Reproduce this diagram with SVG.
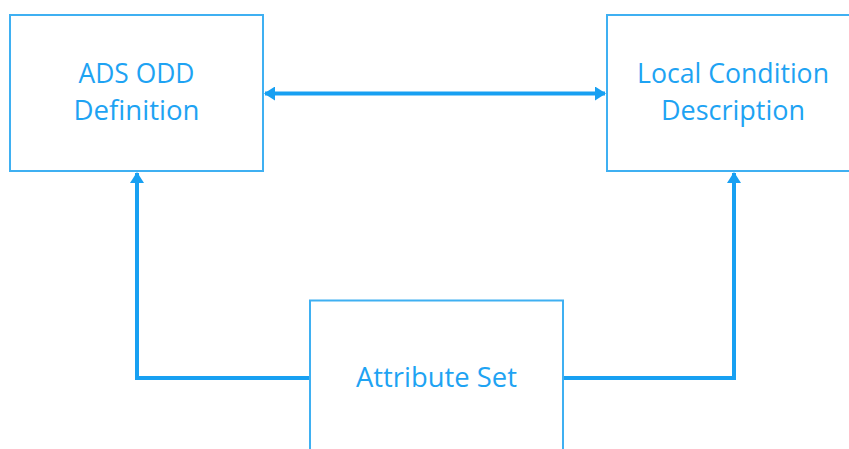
<svg xmlns="http://www.w3.org/2000/svg" width="849" height="449" viewBox="0 0 849 449">
<style>
.box{fill:#fff;stroke:#3fb0f2;stroke-width:2}
.lbl{font-family:"Open Sans","Liberation Sans",sans-serif;font-size:27px;fill:#1ea3f3;text-anchor:middle}
.con{fill:none;stroke:#18a0f2;stroke-width:4;stroke-linejoin:miter}
</style>
<defs>
<marker id="ah" viewBox="0 0 11 14" refX="10" refY="7" markerWidth="11" markerHeight="14" orient="auto-start-reverse" markerUnits="userSpaceOnUse">
<path d="M0,0 L11,7 L0,14 z" fill="#18a0f2"/>
</marker>
</defs>
<rect width="849" height="449" fill="#fff"/>
<g id="connectors">
<path class="con" d="M265,93.5 H605" marker-start="url(#ah)" marker-end="url(#ah)"/>
<path class="con" d="M310,378 H137 V173" marker-end="url(#ah)"/>
<path class="con" d="M563,378 H734 V173" marker-end="url(#ah)"/>
</g>
<g id="ads">
<rect class="box" x="10" y="15" width="253" height="156"/>
<text class="lbl" x="136.5" y="83" textLength="116" lengthAdjust="spacingAndGlyphs">ADS ODD</text>
<text class="lbl" x="136.5" y="120" textLength="126" lengthAdjust="spacingAndGlyphs">Definition</text>
</g>
<g id="local">
<rect class="box" x="607" y="15" width="252" height="156"/>
<text class="lbl" x="733" y="83" textLength="192" lengthAdjust="spacingAndGlyphs">Local Condition</text>
<text class="lbl" x="733" y="120" textLength="144" lengthAdjust="spacingAndGlyphs">Description</text>
</g>
<g id="attr">
<rect class="box" x="310" y="300.5" width="253" height="160"/>
<text class="lbl" x="436.5" y="387" textLength="161" lengthAdjust="spacingAndGlyphs">Attribute Set</text>
</g>
</svg>
